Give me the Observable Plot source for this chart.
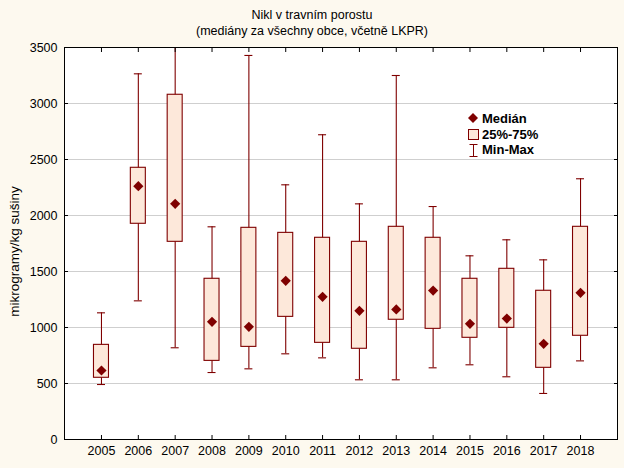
<!DOCTYPE html>
<html>
<head>
<meta charset="utf-8">
<script src="https://cdn.jsdelivr.net/npm/d3@7"></script>
<script src="https://cdn.jsdelivr.net/npm/@observablehq/plot@0.6"></script>
<style>
  html, body { margin: 0; padding: 0; background: #fdf9ef; }
  #wrap { position: relative; width: 624px; height: 468px; font-family: "Liberation Sans", Arial, sans-serif; }
  #title { height: 40px; box-sizing: border-box; padding-top: 7px; text-align: center; font-size: 12.5px; line-height: 16px; color: #000; }
  #legend { position: absolute; left: 460px; top: 108px; }
</style>
</head>
<body>
<div id="wrap">
  <div id="title">Nikl v travním porostu<br>(mediány za všechny obce, včetně LKPR)</div>
  <div id="chart"></div>
  <div id="legend"></div>
</div>
<script>
const years   = [2005, 2006, 2007, 2008, 2009, 2010, 2011, 2012, 2013, 2014, 2015, 2016, 2017, 2018];
const mins    = [491, 1238, 819, 598, 631, 765, 729, 533, 533, 640, 667, 560, 411, 702];
const q1s     = [551, 1926, 1765, 702, 827, 1095, 863, 810, 1069, 988, 908, 997, 640, 926];
const medians = [616, 2262, 2104, 1051, 1006, 1417, 1274, 1149, 1161, 1330, 1033, 1080, 854, 1310];
const q3s     = [845, 2426, 3078, 1435, 1890, 1845, 1801, 1765, 1899, 1801, 1435, 1524, 1328, 1899];
const maxs    = [1131, 3265, 3600, 1899, 3429, 2274, 2721, 2104, 3250, 2080, 1640, 1783, 1604, 2328];
const yTicks  = [0, 500, 1000, 1500, 2000, 2500, 3000, 3500];
const yLabel  = "mikrogramy/kg sušiny";
const legendLabels = ["Medián", "25%-75%", "Min-Max"];

const dark = "#7f0000";
const peach = "#fde8da";

const data = years.map((y, i) => ({
  year: String(y), min: mins[i], q1: q1s[i], median: medians[i], q3: q3s[i], max: maxs[i]
}));

const chart = Plot.plot({
  width: 624,
  height: 428,
  marginTop: 7,
  marginBottom: 29,
  marginLeft: 64,
  marginRight: 7,
  style: { fontFamily: "Liberation Sans, Arial, sans-serif", fontSize: "12.5px", background: "transparent", color: "#000" },
  x: { type: "band", domain: years.map(String), paddingInner: 0.593, paddingOuter: 0.8, round: false },
  y: { domain: [0, 3500] },
  marks: [
    Plot.frame({ fill: "white", stroke: null }),
    Plot.gridY(yTicks, { stroke: "#cfcfcf", strokeOpacity: 1 }),
    Plot.ruleX(data, { x: "year", y1: "min", y2: "max", stroke: dark, strokeWidth: 1.1, clip: true }),
    Plot.tickY(data, { x: "year", y: "min", stroke: dark, strokeWidth: 1.1, insetLeft: 3.5, insetRight: 3.5 }),
    Plot.tickY(data, { x: "year", y: "max", stroke: dark, strokeWidth: 1.1, insetLeft: 3.5, insetRight: 3.5, clip: true }),
    Plot.barY(data, { x: "year", y1: "q1", y2: "q3", fill: peach, stroke: dark, strokeWidth: 1.1 }),
    Plot.dot(data, { x: "year", y: "median", symbol: "diamond2", r: 4.6, fill: dark, stroke: null }),
    Plot.axisY(yTicks, { anchor: "left", tickSize: -4, tickPadding: 11, tickFormat: d3.format("d"), label: null }),
    Plot.axisY(yTicks, { anchor: "right", tickSize: -4, tickFormat: () => "", label: null }),
    Plot.axisX({ anchor: "bottom", tickSize: -4, tickPadding: 11, label: null }),
    Plot.axisX({ anchor: "top", tickSize: -4, tickFormat: () => "", label: null }),
    Plot.text([yLabel], { text: d => d, frameAnchor: "left", rotate: -90, dx: -50, dy: 8, fontSize: 13.5, textAnchor: "middle" }),
    Plot.frame({ stroke: "#000", strokeWidth: 1 })
  ]
});
document.getElementById("chart").appendChild(chart);

// Legend
const lg = d3.select("#legend").append("svg").attr("width", 110).attr("height", 52)
  .style("font-family", "Liberation Sans, Arial, sans-serif").style("font-size", "13px").style("font-weight", "bold");
lg.append("polygon").attr("points", "13,5 18,10 13,15 8,10").attr("fill", dark);
lg.append("rect").attr("x", 8.5).attr("y", 21.5).attr("width", 10).attr("height", 10).attr("fill", peach).attr("stroke", dark);
lg.append("line").attr("x1", 13.5).attr("x2", 13.5).attr("y1", 36).attr("y2", 49).attr("stroke", dark);
lg.append("line").attr("x1", 9.5).attr("x2", 17.5).attr("y1", 36.5).attr("y2", 36.5).attr("stroke", dark);
lg.append("line").attr("x1", 9.5).attr("x2", 17.5).attr("y1", 48.5).attr("y2", 48.5).attr("stroke", dark);
[10, 26, 41].forEach((cy, i) => {
  lg.append("text").attr("x", 22).attr("y", cy).attr("dy", "0.35em").text(legendLabels[i]);
});
</script>
</body>
</html>
